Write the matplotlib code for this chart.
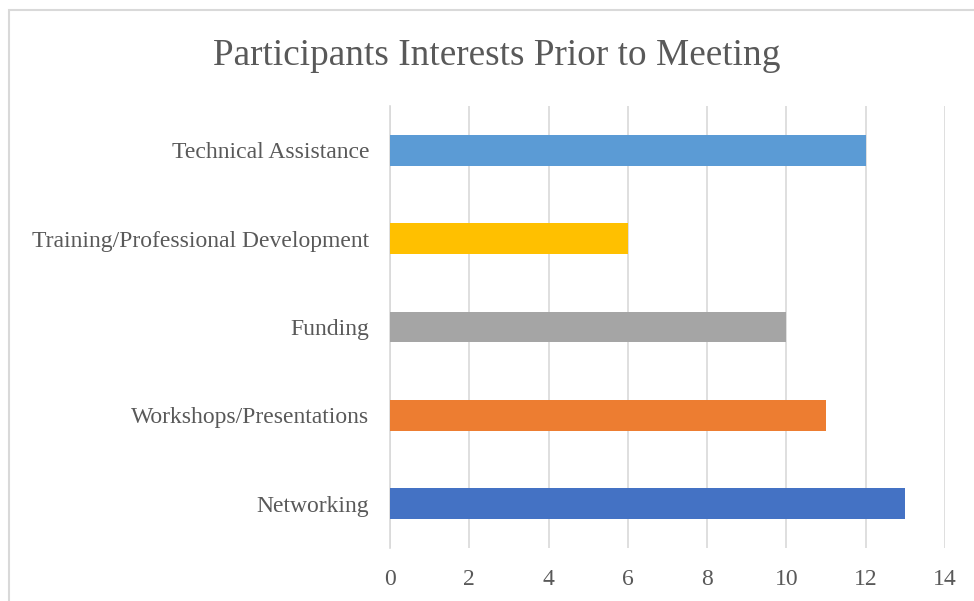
import matplotlib
matplotlib.use("Agg")
import matplotlib.pyplot as plt
from matplotlib.patches import Rectangle

# data, bottom to top as drawn
categories = ["Networking", "Workshops/Presentations", "Funding",
              "Training/Professional Development", "Technical Assistance"]
values = [13, 11, 10, 6, 12]
bar_colors = ["#4472C4", "#ED7D31", "#A5A5A5", "#FFC000", "#5B9BD5"]
x_ticks = [0, 2, 4, 6, 8, 10, 12, 14]

text_color = "#595959"
grid_color = "#D9D9D9"

plt.rcParams["font.family"] = ["Liberation Serif", "DejaVu Serif"]

W, H = 974, 601
fig = plt.figure(figsize=(W / 100, H / 100), dpi=100)
ax = fig.add_axes([390 / W, 1 - 548 / H, (945 - 390) / W, (548 - 106) / H])

ax.barh(range(len(categories)), values, height=0.35, color=bar_colors, zorder=3)

ax.set_xlim(0, 14)
ax.set_ylim(-0.5, len(categories) - 0.5)
ax.set_xticks(x_ticks)
ax.set_xticklabels([str(t) for t in x_ticks])
ax.set_yticks(range(len(categories)))
ax.set_yticklabels(categories)

ax.grid(axis="x", color=grid_color, linewidth=1.2, zorder=0)
for s in ["top", "right", "bottom"]:
    ax.spines[s].set_visible(False)
ax.spines["left"].set_color(grid_color)
ax.spines["left"].set_linewidth(1.2)
ax.tick_params(axis="both", length=0, labelsize=17, labelcolor=text_color)
ax.tick_params(axis="x", pad=15)
ax.tick_params(axis="y", pad=15)

fig.text(496.5 / W, 1 - 56 / H, "Participants Interests Prior to Meeting",
         ha="center", va="center", fontsize=26.8, color=text_color)

# chart area border (runs off the right and bottom edges)
fig.patches.append(Rectangle((8.5 / W, -0.1), 1.2, 1.1 - 9.5 / H, fill=False,
                             edgecolor=grid_color, linewidth=1.5,
                             transform=fig.transFigure, figure=fig))

fig.savefig("out.png", dpi=100)
